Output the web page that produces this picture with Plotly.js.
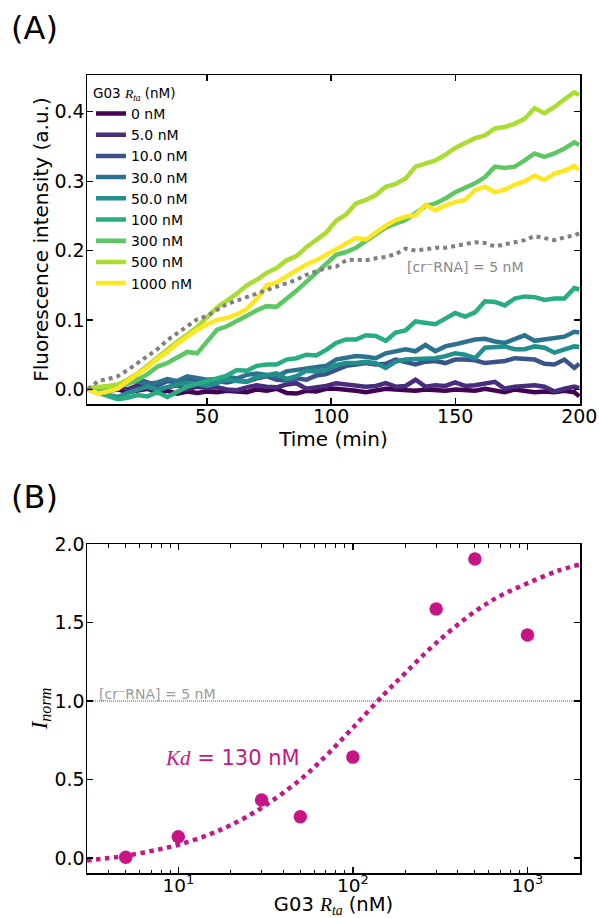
<!DOCTYPE html>
<html><head><meta charset="utf-8">
<script src="https://cdn.plot.ly/plotly-3.0.1.min.js"></script>
<style>html,body{margin:0;padding:0;background:#fff}#chart{width:599px;height:918px}</style>
</head><body><div id="chart"></div>
<script>
// ---------- Panel A data ----------
const time = [2,6,10,14,18,22,26,30,34,38,42,46,50,54,58,62,66,70,74,78,82,86,90,94,98,102,106,110,114,118,122,126,130,134,138,142,146,150,154,158,162,166,170,174,178,182,186,190,194,198,200];
const f0 = [0.000,-0.003,-0.002,0.000,-0.004,-0.002,0.001,-0.005,-0.002,-0.006,-0.003,-0.005,-0.003,-0.004,-0.002,-0.003,-0.004,0.000,-0.002,0.001,-0.005,-0.006,-0.002,-0.003,0.001,0.001,0.000,-0.002,-0.004,-0.002,0.001,0.000,-0.001,-0.002,0.000,-0.001,-0.002,0.000,-0.001,-0.002,0.001,-0.002,-0.004,0.000,-0.002,-0.004,-0.003,-0.004,-0.002,-0.004,-0.010];
const f5 = [0.000,0.002,0.000,0.004,0.000,0.006,0.002,-0.002,0.003,0.006,0.000,0.004,0.002,0.003,0.000,-0.001,0.003,0.006,0.004,0.003,0.007,0.009,0.001,0.003,0.005,0.009,0.007,0.006,0.004,0.005,0.009,0.004,0.005,0.014,0.004,0.006,0.005,0.010,0.005,0.006,0.008,0.011,0.001,0.004,0.005,0.006,0.004,-0.003,0.001,0.004,0.002];
const f10 = [0.000,-0.003,0.002,0.006,0.012,0.015,0.010,0.006,0.012,0.010,0.015,0.010,0.011,0.012,0.010,0.013,0.011,0.016,0.019,0.014,0.013,0.016,0.014,0.020,0.022,0.028,0.034,0.036,0.038,0.036,0.037,0.043,0.040,0.036,0.040,0.041,0.038,0.043,0.043,0.042,0.038,0.040,0.041,0.045,0.044,0.043,0.037,0.036,0.043,0.031,0.037];
const f30 = [0.000,0.000,-0.002,0.005,0.010,0.012,0.008,0.010,0.015,0.012,0.019,0.016,0.014,0.015,0.018,0.016,0.021,0.023,0.021,0.019,0.026,0.028,0.031,0.033,0.034,0.043,0.046,0.048,0.047,0.045,0.052,0.055,0.058,0.055,0.064,0.055,0.062,0.065,0.068,0.072,0.073,0.069,0.067,0.072,0.078,0.070,0.072,0.074,0.076,0.083,0.082];
const f50 = [0.000,-0.003,-0.008,-0.011,-0.005,0.000,0.004,0.000,0.003,0.006,0.010,0.008,0.005,0.009,0.014,0.012,0.011,0.018,0.020,0.023,0.015,0.019,0.027,0.026,0.028,0.035,0.038,0.038,0.040,0.038,0.031,0.040,0.043,0.044,0.045,0.045,0.048,0.052,0.050,0.045,0.060,0.061,0.062,0.058,0.058,0.062,0.060,0.053,0.057,0.062,0.061];
const f100 = [0.000,-0.005,-0.010,-0.014,-0.012,-0.008,-0.010,-0.004,-0.011,-0.003,0.004,0.008,0.012,0.016,0.020,0.028,0.027,0.034,0.036,0.036,0.043,0.045,0.050,0.049,0.057,0.067,0.072,0.072,0.078,0.077,0.070,0.082,0.085,0.098,0.096,0.094,0.102,0.110,0.105,0.111,0.127,0.126,0.121,0.131,0.134,0.133,0.129,0.131,0.131,0.146,0.144];
const f300 = [0.000,0.001,0.002,0.004,0.008,0.014,0.022,0.033,0.038,0.046,0.054,0.052,0.068,0.086,0.091,0.098,0.106,0.114,0.120,0.119,0.130,0.142,0.155,0.168,0.182,0.194,0.198,0.204,0.214,0.224,0.233,0.239,0.244,0.254,0.264,0.268,0.275,0.284,0.291,0.297,0.306,0.321,0.319,0.321,0.330,0.340,0.335,0.340,0.347,0.356,0.352];
const f500 = [0.002,0.003,0.005,0.007,0.014,0.023,0.035,0.047,0.057,0.069,0.079,0.090,0.104,0.118,0.128,0.138,0.150,0.158,0.168,0.175,0.186,0.192,0.205,0.216,0.226,0.243,0.252,0.268,0.273,0.280,0.292,0.296,0.304,0.321,0.326,0.330,0.338,0.348,0.355,0.362,0.366,0.376,0.378,0.383,0.390,0.405,0.398,0.407,0.418,0.428,0.424];
const f1000 = [0.000,-0.006,-0.003,0.001,0.012,0.022,0.032,0.044,0.054,0.066,0.076,0.086,0.094,0.100,0.103,0.108,0.116,0.130,0.150,0.154,0.163,0.172,0.180,0.186,0.194,0.203,0.210,0.218,0.216,0.227,0.236,0.244,0.249,0.251,0.266,0.258,0.265,0.270,0.273,0.287,0.292,0.284,0.288,0.295,0.300,0.308,0.302,0.311,0.315,0.322,0.316];
const fCrRNA = [0.000,0.012,0.015,0.019,0.028,0.038,0.047,0.058,0.071,0.081,0.092,0.101,0.106,0.114,0.123,0.128,0.133,0.138,0.142,0.148,0.153,0.158,0.165,0.170,0.175,0.177,0.186,0.187,0.186,0.189,0.191,0.195,0.203,0.200,0.202,0.204,0.204,0.207,0.210,0.212,0.211,0.206,0.209,0.212,0.215,0.221,0.218,0.215,0.219,0.222,0.225];
const seriesNames = ['0 nM','5.0 nM','10.0 nM','30.0 nM','50.0 nM','100 nM','300 nM','500 nM','1000 nM'];
const seriesValues = [f0,f5,f10,f30,f50,f100,f300,f500,f1000];
const seriesColors = ['#440154','#472D7B','#3B528B','#2C728E','#21908C','#27AD81','#5DC863','#AADC32','#FDE725'];
const timeTicks = [50,100,150,200];
const fluoTicks = [0,0.1,0.2,0.3,0.4];

// ---------- Panel B data ----------
const rtaConc = [5,10,30,50,100,300,500,1000];
const iNorm = [0.006,0.136,0.370,0.263,0.643,1.586,1.904,1.420];
const fitConc = [3,4,5,7,10,15,20,30,50,70,100,150,200,300,500,700,1000,1500,2000];
const fitINorm = [-0.015,0.000,0.015,0.045,0.085,0.150,0.210,0.320,0.500,0.650,0.830,1.040,1.180,1.370,1.570,1.670,1.750,1.830,1.870];
const crRnaLevel = [1.0];
const concTicks = [10,100,1000];
const concTickText = ['10<sup>1</sup>','10<sup>2</sup>','10<sup>3</sup>'];
const concMinor = [3,4,5,6,7,8,9,20,30,40,50,60,70,80,90,200,300,400,500,600,700,800,900,2000];
const iNormTicks = [0,0.5,1,1.5,2];

const MAG = '#C71585';
const SERIF = 'Liberation Serif';
const TICKC = 'black';

const traces = [];
seriesNames.forEach((n,i)=>{
  traces.push({x:time, y:seriesValues[i], type:'scatter', mode:'lines', name:n,
    line:{color:seriesColors[i], width:4.5}, xaxis:'x', yaxis:'y', hoverinfo:'skip'});
});
traces.push({x:time, y:fCrRNA, type:'scatter', mode:'lines', showlegend:false,
  line:{color:'#808080', width:4, dash:'dot'}, xaxis:'x', yaxis:'y'});
traces.push({x:fitConc, y:fitINorm, type:'scatter', mode:'lines', showlegend:false,
  line:{color:MAG, width:4.5, dash:'dot', shape:'spline'}, xaxis:'x2', yaxis:'y2'});
traces.push({x:rtaConc, y:iNorm, type:'scatter', mode:'markers', showlegend:false,
  marker:{color:MAG, size:13.5}, xaxis:'x2', yaxis:'y2'});

const axBase = {showline:true, linecolor:'black', linewidth:1.5, mirror:'ticks', ticks:'inside',
  ticklen:6, tickwidth:1.3, tickcolor:TICKC, showgrid:false, zeroline:false, tickfont:{size:19}};

const layout = {
  width:599, height:918,
  margin:{l:87, r:19, t:0, b:0},
  paper_bgcolor:'white', plot_bgcolor:'white',
  font:{family:'DejaVu Sans', color:'black'},
  showlegend:true,
  xaxis: Object.assign({}, axBase, {domain:[0,1], anchor:'y', range:[1.6,200.3],
    tickmode:'array', tickvals:timeTicks, ticklabelstandoff:-5,
    title:{text:'Time (min)', font:{size:20}, standoff:0}}),
  yaxis: Object.assign({}, axBase, {domain:[0.5599,0.9183], anchor:'x', range:[-0.021,0.453],
    tickmode:'array', tickvals:fluoTicks, tickformat:'.1f', ticklabelstandoff:-3,
    title:{text:'Fluorescence intensity (a.u.)', font:{size:20}, standoff:0}}),
  xaxis2: Object.assign({}, axBase, {domain:[0,1], anchor:'y2', type:'log',
    range:[Math.log10(3), Math.log10(2000)], ticklabelstandoff:-5, tickfont:{size:18.5},
    tickmode:'array', tickvals:concTicks, ticktext:concTickText,
    minor:{tickmode:'array', tickvals:concMinor, ticks:'inside', ticklen:3.5, tickwidth:1, tickcolor:TICKC},
    title:{text:'G03 <span style="font-family:'+SERIF+'"><i>R</i><sub><i>ta</i></sub></span> (nM)', font:{size:19.5}, standoff:12}}),
  yaxis2: Object.assign({}, axBase, {domain:[0.049,0.4074], anchor:'x2', range:[-0.095,2.0],
    tickmode:'array', tickvals:iNormTicks, tickformat:'.1f', ticklabelstandoff:-3,
    title:{text:'<i>I</i><sub><i>norm</i></sub>', font:{size:23, family:SERIF}, standoff:0}}),
  legend:{x:0.008, y:0.9125, xanchor:'left', yanchor:'top', bgcolor:'rgba(0,0,0,0)',
    font:{size:14}, itemwidth:30, tracegroupgap:0,
    title:{text:'G03 <span style="font-family:'+SERIF+'"><i>R</i><sub><i>ta</i></sub></span> (nM)', font:{size:13.5}}},
  shapes:[{type:'line', xref:'x2 domain', x0:0, x1:1, yref:'y2', y0:crRnaLevel[0], y1:crRnaLevel[0],
    line:{color:'#aaaaaa', width:2, dash:'1px,1px'}, layer:'below'}],
  annotations:[
    {text:'(A)', xref:'paper', yref:'paper', x:-0.158, y:0.970, xanchor:'left', yanchor:'middle', showarrow:false, font:{size:32}},
    {text:'(B)', xref:'paper', yref:'paper', x:-0.158, y:0.4585, xanchor:'left', yanchor:'middle', showarrow:false, font:{size:32}},
    {text:'[cr\u207BRNA] = 5 nM', xref:'paper', yref:'paper', x:0.645, y:0.709, xanchor:'left', yanchor:'middle', showarrow:false, font:{size:14, color:'#888888'}},
    {text:'[cr\u207BRNA] = 5 nM', xref:'paper', yref:'paper', x:0.0203, y:0.244, xanchor:'left', yanchor:'middle', showarrow:false, font:{size:14, color:'#9a9a9a'}},
    {text:'<span style="font-family:'+SERIF+'"><i>Kd</i></span> = 130 nM', xref:'paper', yref:'paper', x:0.154, y:0.1743, xanchor:'left', yanchor:'middle', showarrow:false, font:{size:21, color:MAG}}
  ]
};

Plotly.newPlot('chart', traces, layout, {displayModeBar:false, staticPlot:true});
</script></body></html>
